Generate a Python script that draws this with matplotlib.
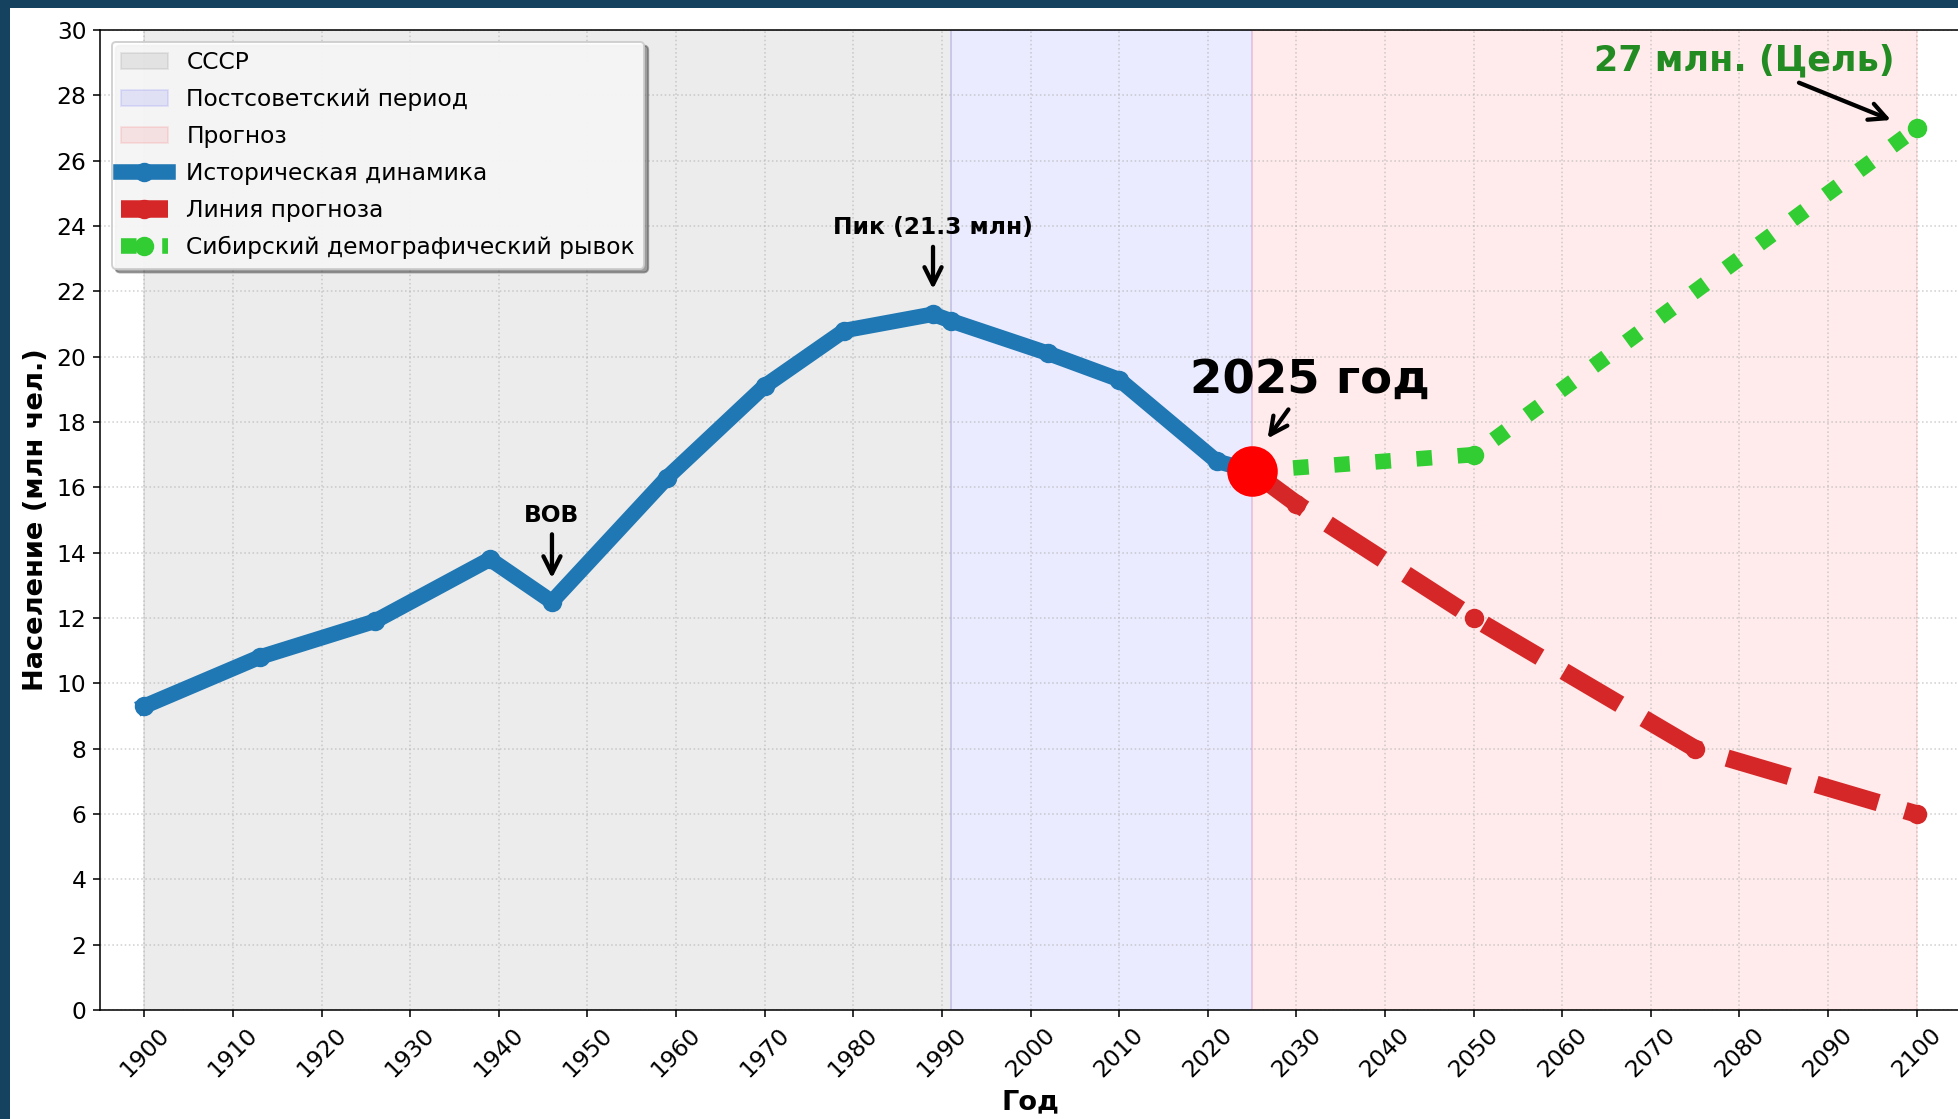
import numpy as np
import matplotlib
matplotlib.use("Agg")
import matplotlib.pyplot as plt
from matplotlib.patches import Rectangle

# data
hist_years = [1900, 1913, 1926, 1939, 1946, 1959, 1970, 1979, 1989, 1991, 2002, 2010, 2021, 2025]
hist_pop = [9.3, 10.8, 11.9, 13.8, 12.5, 16.3, 19.1, 20.8, 21.3, 21.1, 20.1, 19.3, 16.8, 16.5]

fc_years = [2025, 2030, 2050, 2075, 2100]
fc_pop = [16.5, 15.5, 12.0, 8.0, 6.0]

sib_years = [2025, 2050, 2100]
sib_pop = [16.5, 17.0, 27.0]

periods = [(1900, 1991, "СССР", "gray", 0.15),
           (1991, 2025, "Постсоветский период", "blue", 0.08),
           (2025, 2100, "Прогноз", "red", 0.08)]

year_ticks = np.arange(1900, 2101, 10)
pop_ticks = np.arange(0, 31, 2)

W, H, DPI = 1959, 1119, 140
fig = plt.figure(figsize=(W / DPI, H / DPI), dpi=DPI)
fig.patch.set_facecolor("#15435f")
fig.add_artist(Rectangle((10 / W, 0), 1, 1 - 8 / H, transform=fig.transFigure,
                         facecolor="white", edgecolor="none", zorder=-1))

ax = fig.add_axes([100 / W, 1 - 1010 / H, 1861 / W, 980 / H])

for x0, x1, lab, col, a in periods:
    ax.axvspan(x0, x1, color=col, alpha=a, label=lab)

ax.plot(hist_years, hist_pop, color="#1f77b4", lw=8, marker="o", ms=9,
        label="Историческая динамика", zorder=3)
ax.plot(fc_years, fc_pop, color="#d62728", lw=9, ls="--", marker="o", ms=9,
        label="Линия прогноза", zorder=3)
ax.plot(sib_years, sib_pop, color="#32cd32", lw=8, ls=":", marker="o", ms=9,
        label="Сибирский демографический рывок", zorder=3)
ax.plot([2025], [16.5], "o", color="red", ms=25, zorder=5)

arrow = dict(arrowstyle="->", lw=2.2, color="black", mutation_scale=22)
ax.annotate("ВОВ", xy=(1946, 13.1), xytext=(1946, 14.8), ha="center", va="bottom",
            fontsize=12, fontweight="bold", arrowprops=arrow)
ax.annotate("Пик (21.3 млн)", xy=(1989, 21.95), xytext=(1989, 23.6), ha="center", va="bottom",
            fontsize=12, fontweight="bold", arrowprops=arrow)
ax.annotate("2025 год", xy=(2026.5, 17.4), xytext=(2031.5, 18.6), ha="center", va="bottom",
            fontsize=24, fontweight="bold", arrowprops=arrow)
ax.annotate("27 млн. (Цель)", xy=(2097.5, 27.2), xytext=(2080.5, 28.55), ha="center", va="bottom",
            fontsize=18, fontweight="bold", color="#228b22", arrowprops=arrow)

ax.set_xlim(1895, 2105)
ax.set_ylim(0, 30)
ax.set_xticks(year_ticks)
ax.set_yticks(pop_ticks)
ax.tick_params(axis="x", labelrotation=45, labelsize=12)
ax.tick_params(axis="y", labelsize=12)
ax.set_xlabel("Год", fontsize=14, fontweight="bold")
ax.set_ylabel("Население (млн чел.)", fontsize=14, fontweight="bold")
ax.grid(True, linestyle=":", alpha=0.6)

ax.legend(loc="upper left", fontsize=12, shadow=True, framealpha=0.9, labelspacing=0.6)

fig.savefig("out.png", dpi=DPI, facecolor=fig.get_facecolor())
